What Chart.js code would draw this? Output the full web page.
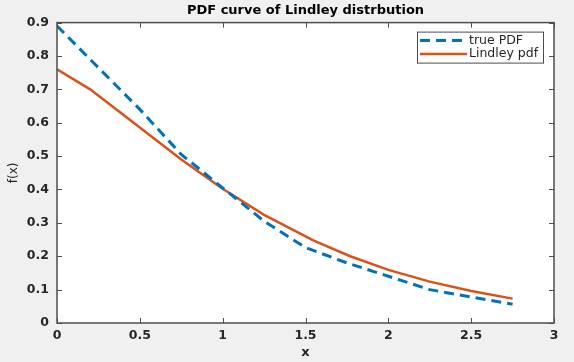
<!DOCTYPE html>
<html>
<head>
<meta charset="utf-8">
<script src="https://cdn.jsdelivr.net/npm/chart.js@4.4.0/dist/chart.umd.min.js"></script>
<style>
  html, body { margin: 0; padding: 0; background: #f0f0f0; }
</style>
</head>
<body>
<canvas id="myChart" width="574" height="362"></canvas>
<script>
// Datos
const xTrue = [0, 0.25, 0.5, 0.75, 1.0, 1.25, 1.5, 1.75, 2.0, 2.25, 2.5, 2.75];
const trueVals = [0.89, 0.765, 0.64, 0.505, 0.405, 0.305, 0.226, 0.18, 0.14, 0.10, 0.078, 0.056];
const xLind = [0, 0.2, 0.5, 0.75, 1.0, 1.25, 1.55, 1.77, 2.0, 2.25, 2.5, 2.75];
const lindVals = [0.76, 0.70, 0.586, 0.49, 0.402, 0.324, 0.247, 0.20, 0.159, 0.124, 0.096, 0.073];
const xTicks = [0, 0.5, 1, 1.5, 2, 2.5, 3];
const yTicks = [0, 0.1, 0.2, 0.3, 0.4, 0.5, 0.6, 0.7, 0.8, 0.9];

const toPoints = (xs, ys) => xs.map((x, i) => ({ x: x, y: ys[i] }));

const FRAME = '#4d4d4d';
const TXT = '#262626';
const FONT = 'DejaVu Sans';

// Fondo blanco del área del gráfico
const whiteArea = {
    id: 'whiteArea',
    beforeDraw(chart) {
        const { ctx, chartArea } = chart;
        ctx.save();
        ctx.fillStyle = '#ffffff';
        ctx.fillRect(chartArea.left, chartArea.top, chartArea.right - chartArea.left, chartArea.bottom - chartArea.top);
        ctx.restore();
    },
};

// Marco y marcas hacia dentro (estilo MATLAB)
const frameTicks = {
    id: 'frameTicks',
    afterDatasetsDraw(chart) {
        const { ctx, chartArea, scales } = chart;
        const { left, right, top, bottom } = chartArea;
        ctx.save();
        ctx.strokeStyle = FRAME;
        ctx.lineWidth = 1;
        ctx.beginPath();
        xTicks.forEach((v) => {
            const px = Math.round(scales.x.getPixelForValue(v)) + 0.5;
            ctx.moveTo(px, bottom); ctx.lineTo(px, bottom - 5);
            ctx.moveTo(px, top); ctx.lineTo(px, top + 5);
        });
        yTicks.forEach((v) => {
            const py = Math.round(scales.y.getPixelForValue(v)) + 0.5;
            ctx.moveTo(left, py); ctx.lineTo(left + 5, py);
            ctx.moveTo(right, py); ctx.lineTo(right - 5, py);
        });
        ctx.stroke();
        ctx.lineWidth = 1.5;
        ctx.strokeRect(left, top, right - left, bottom - top);
        ctx.restore();
    },
};

// Leyenda con recuadro dentro del área
const legendBox = {
    id: 'legendBox',
    afterDraw(chart) {
        const { ctx, chartArea } = chart;
        const w = 126, h = 31;
        const x0 = chartArea.right - 11 - w;
        const y0 = chartArea.top + 9;
        ctx.save();
        ctx.fillStyle = '#ffffff';
        ctx.fillRect(x0, y0, w, h);
        ctx.strokeStyle = FRAME;
        ctx.lineWidth = 1;
        ctx.strokeRect(x0 + 0.5, y0 + 0.5, w, h);
        chart.data.datasets.forEach((ds, i) => {
            const y = y0 + 9 + i * 13.3;
            ctx.strokeStyle = ds.borderColor;
            ctx.lineWidth = ds.borderWidth;
            ctx.setLineDash(ds.borderDash || []);
            ctx.beginPath();
            ctx.moveTo(x0 + 3, y);
            ctx.lineTo(x0 + 50, y);
            ctx.stroke();
            ctx.setLineDash([]);
            ctx.fillStyle = TXT;
            ctx.font = '12.5px "' + FONT + '"';
            ctx.textBaseline = 'middle';
            ctx.fillText(ds.label, x0 + 52, y);
        });
        ctx.restore();
    },
};

const tickFont = { family: FONT, size: 12.5, weight: 'bold' };

const ctx = document.getElementById('myChart').getContext('2d');

new Chart(ctx, {
    type: 'line',
    data: {
        datasets: [
            {
                label: 'true PDF',
                data: toPoints(xTrue, trueVals),
                borderColor: '#0072BD',
                borderWidth: 3,
                borderDash: [10, 6],
                pointRadius: 0,
                tension: 0,
            },
            {
                label: 'Lindley pdf',
                data: toPoints(xLind, lindVals),
                borderColor: '#D95319',
                borderWidth: 2.5,
                pointRadius: 0,
                tension: 0,
            },
        ],
    },
    options: {
        responsive: false,
        animation: false,
        layout: { padding: { left: 0, right: 20, top: 0, bottom: 0 } },
        plugins: {
            legend: { display: false },
            tooltip: { enabled: false },
            title: {
                display: true,
                text: 'PDF curve of Lindley distrbution',
                color: '#000',
                fullSize: false,
                font: { family: FONT, size: 13, weight: 'bold' },
                padding: { top: 3, bottom: 4 },
            },
        },
        scales: {
            x: {
                type: 'linear',
                min: 0,
                max: 3,
                afterBuildTicks(scale) { scale.ticks = xTicks.map((v) => ({ value: v })); },
                afterFit(scale) { scale.height = 39; },
                grid: { display: false, drawTicks: false },
                border: { display: false },
                ticks: {
                    color: TXT,
                    padding: 5,
                    font: tickFont,
                    callback: (v) => String(v),
                },
                title: {
                    display: true,
                    text: 'x',
                    color: TXT,
                    font: { family: FONT, size: 13, weight: 'bold' },
                    padding: { top: 0, bottom: 2 },
                },
            },
            y: {
                min: 0,
                max: 0.9,
                afterBuildTicks(scale) { scale.ticks = yTicks.map((v) => ({ value: v })); },
                afterFit(scale) { scale.width = 57; },
                grid: { display: false, drawTicks: false },
                border: { display: false },
                ticks: {
                    color: TXT,
                    padding: 8,
                    font: tickFont,
                    callback: (v) => String(v),
                },
                title: {
                    display: true,
                    text: 'f(x)',
                    color: TXT,
                    font: { family: FONT, size: 12 },
                    padding: { top: 7, bottom: 0 },
                },
            },
        },
    },
    plugins: [whiteArea, frameTicks, legendBox],
});
</script>
</body>
</html>
